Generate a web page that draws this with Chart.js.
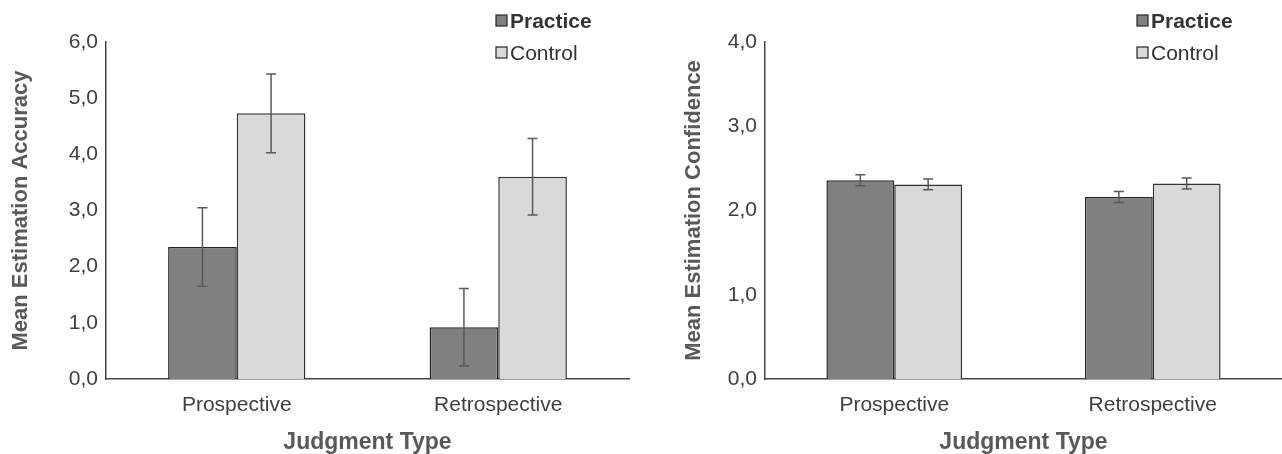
<!DOCTYPE html>
<html>
<head>
<meta charset="utf-8">
<script src="https://cdn.jsdelivr.net/npm/chart.js@4.4.1/dist/chart.umd.min.js"></script>
<style>
  body { margin: 0; background: #fff; }
  #wrap { position: relative; width: 1282px; height: 454px; overflow: hidden; }
  canvas { position: absolute; top: 0; }
</style>
</head>
<body>
<div id="wrap">
  <canvas id="accChart" width="641" height="454" style="left:0"></canvas>
  <canvas id="confChart" width="641" height="454" style="left:641px"></canvas>
</div>
<script>
const categories = ['Prospective', 'Retrospective'];
const seriesNames = ['Practice', 'Control'];

// Mean Estimation Accuracy
const accuracyPractice = [2.35, 0.92];
const accuracyControl = [4.73, 3.60];
const accuracyPracticeErr = [0.70, 0.69];
const accuracyControlErr = [0.70, 0.68];

// Mean Estimation Confidence
const confidencePractice = [2.36, 2.16];
const confidenceControl = [2.31, 2.32];
const confidencePracticeErr = [0.065, 0.065];
const confidenceControlErr = [0.065, 0.065];

const accuracyTicks = [0, 1, 2, 3, 4, 5, 6];
const confidenceTicks = [0, 1, 2, 3, 4];

const FONT = "'Liberation Sans', Arial, sans-serif";

// error bars from each dataset's errors array
const errorBars = {
  id: 'errorBars',
  afterDatasetsDraw(chart) {
    const ctx = chart.ctx;
    const y = chart.scales.y;
    ctx.save();
    ctx.strokeStyle = '#595959';
    ctx.lineWidth = 1.5;
    chart.data.datasets.forEach((ds, i) => {
      chart.getDatasetMeta(i).data.forEach((bar, j) => {
        const v = ds.data[j], e = ds.errors[j];
        const top = y.getPixelForValue(v + e);
        const bot = y.getPixelForValue(v - e);
        ctx.beginPath();
        ctx.moveTo(bar.x, top); ctx.lineTo(bar.x, bot);
        ctx.moveTo(bar.x - 5, top); ctx.lineTo(bar.x + 5, top);
        ctx.moveTo(bar.x - 5, bot); ctx.lineTo(bar.x + 5, bot);
        ctx.stroke();
      });
    });
    ctx.restore();
  }
};

// legend with bold first item, like the original
const boxLegend = {
  id: 'boxLegend',
  afterDraw(chart) {
    const ctx = chart.ctx;
    ctx.save();
    chart.data.datasets.forEach((ds, i) => {
      const cy = 21 + i * 32;
      ctx.fillStyle = ds.backgroundColor;
      ctx.strokeStyle = '#262626';
      ctx.lineWidth = 1.2;
      ctx.fillRect(496, cy - 6, 11, 11);
      ctx.strokeRect(496, cy - 6, 11, 11);
      ctx.fillStyle = '#333';
      ctx.font = (i === 0 ? 'bold ' : '') + '21px ' + FONT;
      ctx.textBaseline = 'middle';
      ctx.fillText(ds.label, 510, cy + 1);
    });
    ctx.restore();
  }
};

function makeChart(id, practice, control, errP, errC, ticks, yTitle, yWidth, rightPad, titlePad) {
  const ctx = document.getElementById(id).getContext('2d');
  return new Chart(ctx, {
    type: 'bar',
    data: {
      labels: categories,
      datasets: [{
        label: seriesNames[0],
        data: practice,
        errors: errP,
        backgroundColor: '#808080',
        borderColor: '#262626',
        borderWidth: 1.5
      }, {
        label: seriesNames[1],
        data: control,
        errors: errC,
        backgroundColor: '#d9d9d9',
        borderColor: '#333333',
        borderWidth: 1.5
      }]
    },
    options: {
      responsive: false,
      animation: false,
      events: [],
      layout: { padding: { top: 42, right: rightPad, left: 0, bottom: 0 } },
      datasets: { bar: { categoryPercentage: 0.525, barPercentage: 1.0 } },
      plugins: { legend: { display: false }, tooltip: { enabled: false } },
      scales: {
        x: {
          grid: { display: false, drawTicks: false },
          border: { display: true, color: '#444', width: 1.5 },
          ticks: { color: '#404040', padding: 14, font: { family: FONT, size: 21 } },
          title: {
            display: true, text: 'Judgment Type', color: '#595959',
            font: { family: FONT, size: 23, weight: 'bold', lineHeight: 1.0 },
            padding: { top: 0, bottom: 0 }
          },
          afterFit(scale) { scale.height = 75; }
        },
        y: {
          min: 0,
          max: ticks[ticks.length - 1],
          afterBuildTicks(scale) { scale.ticks = ticks.map(v => ({ value: v })); },
          grid: { display: false, drawTicks: false },
          border: { display: true, color: '#444', width: 1.5 },
          ticks: {
            color: '#404040', padding: 8,
            font: { family: FONT, size: 21 },
            callback: v => v.toFixed(1).replace('.', ',')
          },
          title: {
            display: true, text: yTitle, color: '#595959',
            font: { family: FONT, size: 22, weight: 'bold', lineHeight: 1.0 },
            padding: { top: titlePad, bottom: 0 }
          },
          afterFit(scale) { scale.width = yWidth; }
        }
      }
    },
    plugins: [errorBars, boxLegend]
  });
}

makeChart('accChart', accuracyPractice, accuracyControl, accuracyPracticeErr, accuracyControlErr,
  accuracyTicks, 'Mean Estimation Accuracy', 106, 12, 10);
makeChart('confChart', confidencePractice, confidenceControl, confidencePracticeErr, confidenceControlErr,
  confidenceTicks, 'Mean Estimation Confidence', 124, 0, 42);
</script>
</body>
</html>
